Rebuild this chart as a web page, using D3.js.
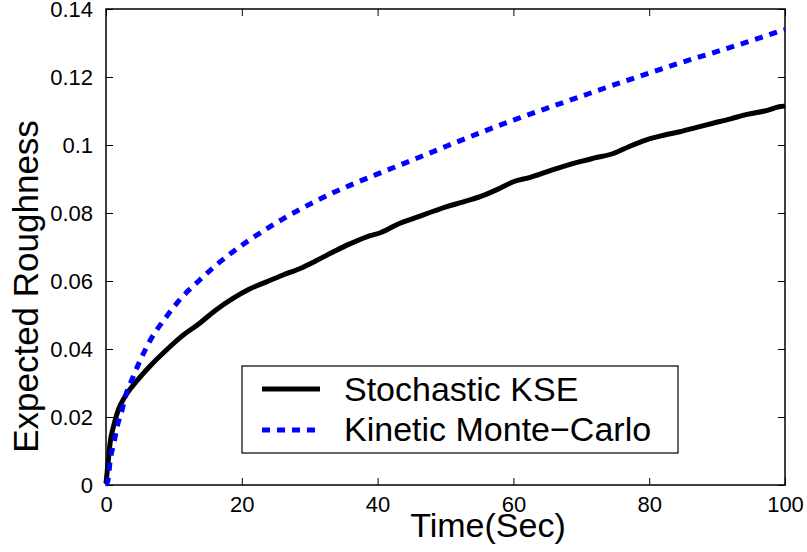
<!DOCTYPE html>
<html>
<head>
<meta charset="utf-8">
<script src="https://cdn.jsdelivr.net/npm/d3@7"></script>
<style>
  html, body { margin: 0; padding: 0; background: #fff; }
  svg { display: block; font-family: "Liberation Sans", Arial, Helvetica, sans-serif; }
</style>
</head>
<body>
<svg id="chart" width="807" height="552"></svg>
<script>
// ---- Data ----
const seriesNames = ["Stochastic KSE", "Kinetic Monte\u2212Carlo"];

const kseTime = [0, 0.1, 0.35, 0.6, 1.1, 1.8, 2.8, 4.5, 6.5, 8.9, 11, 13.8, 16, 18.7, 21, 23.7, 26, 28.6, 31, 33.5, 36, 38.4, 40.4, 43.3, 45.3, 47.5, 50.2, 52.5, 55.1, 57.5, 60, 62.5, 64.9, 67.5, 69.8, 72, 74.7, 77, 79.6, 82, 84.5, 87, 89.4, 92, 94.4, 97, 99.3, 100];
const kseValues = [0.0005, 0.0024, 0.0074, 0.0123, 0.0172, 0.022, 0.026, 0.0305, 0.035, 0.0397, 0.0435, 0.0476, 0.0512, 0.0549, 0.0575, 0.0598, 0.0617, 0.0637, 0.066, 0.0686, 0.071, 0.073, 0.0742, 0.0770, 0.0784, 0.0800, 0.0819, 0.0832, 0.0848, 0.0868, 0.0892, 0.0905, 0.0921, 0.0938, 0.0951, 0.0962, 0.0975, 0.0995, 0.1015, 0.1028, 0.1039, 0.1052, 0.1064, 0.1077, 0.1090, 0.1100, 0.1113, 0.1115];

const kmcTime = [0, 0.3, 0.6, 1.2, 1.7, 2.3, 3.0, 3.8, 5, 6.5, 8.9, 11, 13.8, 16, 18.7, 21, 23.7, 26, 28.6, 31, 33.5, 36, 38.4, 40.4, 45.3, 50.2, 55.1, 60, 64.9, 69.8, 75, 79.9, 84.8, 89.7, 94.6, 99.5, 100];
const kmcValues = [0, 0.0015, 0.0069, 0.0127, 0.0176, 0.0216, 0.027, 0.0309, 0.0365, 0.0425, 0.0495, 0.0548, 0.0603, 0.0643, 0.0686, 0.0719, 0.0754, 0.0782, 0.0811, 0.0836, 0.0860, 0.0882, 0.0902, 0.0918, 0.0957, 0.0997, 0.1036, 0.1073, 0.1108, 0.1142, 0.1178, 0.1211, 0.1243, 0.1273, 0.1304, 0.1336, 0.1339];

const xTicks = [0, 20, 40, 60, 80, 100];
const yTicks = [0, 0.02, 0.04, 0.06, 0.08, 0.1, 0.12, 0.14];
const xLabel = "Time(Sec)";
const yLabel = "Expected Roughness";

// ---- Layout ----
const svg = d3.select("#chart");
const mLeft = 106, mRight = 785, mTop = 9, mBottom = 485;

const x = d3.scaleLinear().domain([0, 100]).range([mLeft, mRight]);
const y = d3.scaleLinear().domain([0, 0.14]).range([mBottom, mTop]);

const tickFmt = d => d === 0 ? "0" : String(+d.toFixed(2));

const axisStyle = g => {
  g.select(".domain").remove();
  g.selectAll(".tick line").attr("stroke", "#000").attr("stroke-width", 1);
};

svg.append("g").attr("transform", `translate(0,${mBottom})`)
  .call(d3.axisBottom(x).tickValues(xTicks).tickSize(-7).tickPadding(11).tickFormat(tickFmt))
  .call(axisStyle)
  .call(g => g.selectAll("text").attr("font-size", 22).attr("fill", "#000")
      .attr("font-family", "Liberation Sans, Arial, sans-serif"));

svg.append("g").attr("transform", `translate(0,${mTop})`)
  .call(d3.axisTop(x).tickValues(xTicks).tickSize(-7).tickFormat(""))
  .call(axisStyle);

svg.append("g").attr("transform", `translate(${mLeft},0)`)
  .call(d3.axisLeft(y).tickValues(yTicks).tickSize(-7).tickPadding(13).tickFormat(tickFmt))
  .call(axisStyle)
  .call(g => g.selectAll("text").attr("font-size", 22).attr("fill", "#000")
      .attr("font-family", "Liberation Sans, Arial, sans-serif"));

svg.append("g").attr("transform", `translate(${mRight},0)`)
  .call(d3.axisRight(y).tickValues(yTicks).tickSize(-7).tickFormat(""))
  .call(axisStyle);

svg.append("rect")
  .attr("x", mLeft).attr("y", mTop)
  .attr("width", mRight - mLeft).attr("height", mBottom - mTop)
  .attr("fill", "none").attr("stroke", "#000").attr("stroke-width", 1.5);

const line = d3.line().x(d => x(d[0])).y(d => y(d[1])).curve(d3.curveMonotoneX);

const kseData = kseTime.map((t, i) => [t, kseValues[i]]);
const kmcData = kmcTime.map((t, i) => [t, kmcValues[i]]);

svg.append("path").datum(kseData)
  .attr("d", line).attr("fill", "none")
  .attr("stroke", "#000").attr("stroke-width", 5).attr("stroke-linejoin", "round");

svg.append("path").datum(kmcData)
  .attr("d", line).attr("fill", "none")
  .attr("stroke", "#0000ff").attr("stroke-width", 5).attr("stroke-dasharray", "8,7");

svg.append("text").attr("x", 488).attr("y", 537)
  .attr("text-anchor", "middle").attr("font-size", 34).attr("fill", "#000")
  .text(xLabel);

svg.append("text")
  .attr("transform", `translate(38,286.5) rotate(-90)`)
  .attr("text-anchor", "middle").attr("font-size", 35).attr("fill", "#000")
  .text(yLabel);

const lg = svg.append("g");
lg.append("rect").attr("x", 242).attr("y", 366).attr("width", 436).attr("height", 87)
  .attr("fill", "#fff").attr("stroke", "#000").attr("stroke-width", 1.2);

const legendRows = [
  { name: seriesNames[0], color: "#000", dash: null, ly: 389, ty: 401 },
  { name: seriesNames[1], color: "#0000ff", dash: "8,7", ly: 430, ty: 441 }
];
legendRows.forEach(r => {
  lg.append("line").attr("x1", 262).attr("x2", 320).attr("y1", r.ly).attr("y2", r.ly)
    .attr("stroke", r.color).attr("stroke-width", 5)
    .attr("stroke-dasharray", r.dash);
  lg.append("text").attr("x", 344).attr("y", r.ty)
    .attr("font-size", 34).attr("fill", "#000").text(r.name);
});
</script>
</body>
</html>
